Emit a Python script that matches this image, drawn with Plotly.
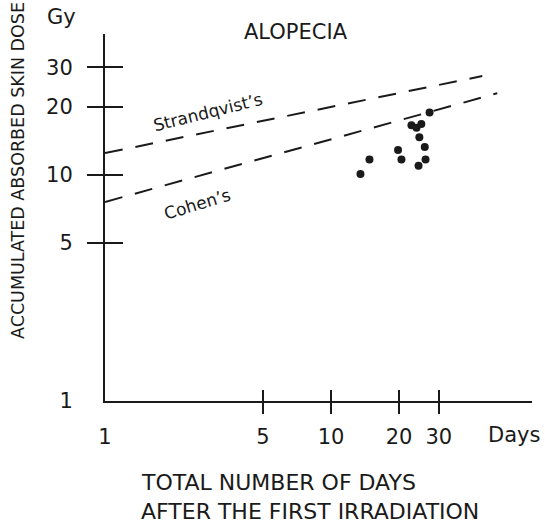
import math
import plotly.graph_objects as go

# ---- data ----
days = [13.5, 14.8, 19.8, 20.5, 24.4, 26.2, 26.0, 24.6, 22.7, 23.9, 25.1, 27.3]
dose = [10.1, 11.7, 12.9, 11.7, 11.0, 11.7, 13.3, 14.7, 16.6, 16.2, 16.8, 18.9]

strandqvist_x = [1, 46.7]
strandqvist_y = [12.5, 27.4]
cohen_x = [1, 54.4]
cohen_y = [7.6, 23.0]

x_tickvals = [1, 5, 10, 20, 30]
x_ticktext = ["1", "5", "10", "20", "30"]
x_markvals = [5, 10, 20, 30]
y_tickvals = [1, 5, 10, 20, 30]
y_ticktext = ["1", "5", "10", "20", "30"]
y_markvals = [5, 10, 20, 30]

INK = "#1a1a1a"
FONT = "DejaVu Sans"

W, H = 545, 528
L, R, T, B = 105, 13, 34, 127
PW, PH = W - L - R, H - T - B
XR = [0, PW / 226.0]
YR = [0, PH / 226.0]

def px_x(px):
    return (px - L) / PW

def px_y(py):
    return (H - B - py) / PH

fig = go.Figure()

dash = "18px,13px"
fig.add_trace(go.Scatter(x=strandqvist_x, y=strandqvist_y, mode="lines",
                         line=dict(color=INK, width=2, dash=dash),
                         hoverinfo="skip", showlegend=False))
fig.add_trace(go.Scatter(x=cohen_x, y=cohen_y, mode="lines",
                         line=dict(color=INK, width=2, dash=dash),
                         hoverinfo="skip", showlegend=False))
fig.add_trace(go.Scatter(x=days, y=dose, mode="markers",
                         marker=dict(color=INK, size=8),
                         showlegend=False))

common = dict(type="log", showgrid=False, zeroline=False)

fig.update_layout(
    width=W, height=H,
    margin=dict(l=L, r=R, t=T, b=B),
    paper_bgcolor="white", plot_bgcolor="white",
    font=dict(family=FONT, color=INK),
    xaxis=dict(**common, range=XR, showline=True, linecolor=INK, linewidth=2,
               tickvals=x_tickvals, ticktext=x_ticktext, ticks="",
               ticklabelstandoff=16, tickfont=dict(size=21, family=FONT, color=INK)),
    xaxis2=dict(**common, range=XR, overlaying="x", anchor="y", side="bottom",
                showline=False, tickvals=x_markvals, ticks="outside", ticklen=12,
                tickwidth=2, tickcolor=INK, showticklabels=False),
    xaxis3=dict(**common, range=XR, overlaying="x", anchor="y", side="bottom",
                showline=False, tickvals=x_markvals, ticks="inside", ticklen=11,
                tickwidth=2, tickcolor=INK, showticklabels=False),
    yaxis=dict(**common, range=YR, showline=True, linecolor=INK, linewidth=2,
               tickvals=y_tickvals, ticktext=y_ticktext, ticks="",
               ticklabelstandoff=26, tickfont=dict(size=21, family=FONT, color=INK)),
    yaxis2=dict(**common, range=YR, overlaying="y", anchor="x", side="left",
                showline=False, tickvals=y_markvals, ticks="outside", ticklen=17,
                tickwidth=2, tickcolor=INK, showticklabels=False),
    yaxis3=dict(**common, range=YR, overlaying="y", anchor="x", side="left",
                showline=False, tickvals=y_markvals, ticks="inside", ticklen=18,
                tickwidth=2, tickcolor=INK, showticklabels=False),
)

# invisible traces to activate overlay axes
for xa, ya in [("x2", "y2"), ("x3", "y3")]:
    fig.add_trace(go.Scatter(x=[1], y=[1], xaxis=xa, yaxis=ya, mode="markers",
                             marker=dict(opacity=0), hoverinfo="skip", showlegend=False))

def pa(text, x, y, size, family=FONT, angle=0, xanchor="center"):
    return dict(text=text, xref="paper", yref="paper", x=px_x(x), y=px_y(y),
                xanchor=xanchor, yanchor="middle", textangle=angle, showarrow=False,
                font=dict(size=size, family=family, color=INK))

ann = [
    pa("ALOPECIA", 296, 32, 21),
    pa("Gy", 61, 17, 21),
    pa("ACCUMULATED ABSORBED SKIN DOSE", 18, 171, 17.5, angle=-90),
    pa("Days", 514, 435, 21),
    pa("TOTAL NUMBER OF DAYS", 139, 482, 22, xanchor="left"),
    pa("AFTER THE FIRST IRRADIATION", 139, 512, 22, xanchor="left"),
]
ann.append(dict(text="Strandqvist\u2019s", xref="x", yref="y",
                x=math.log10(2.87), y=math.log10(19.0), textangle=-14, showarrow=False,
                xanchor="center", yanchor="middle",
                font=dict(size=17, family=FONT, color=INK)))
ann.append(dict(text="Cohen\u2019s", xref="x", yref="y",
                x=math.log10(2.57), y=math.log10(7.45), textangle=-17, showarrow=False,
                xanchor="center", yanchor="middle",
                font=dict(size=17, family=FONT, color=INK)))
fig.update_layout(annotations=ann)

fig.write_html("out.html")
